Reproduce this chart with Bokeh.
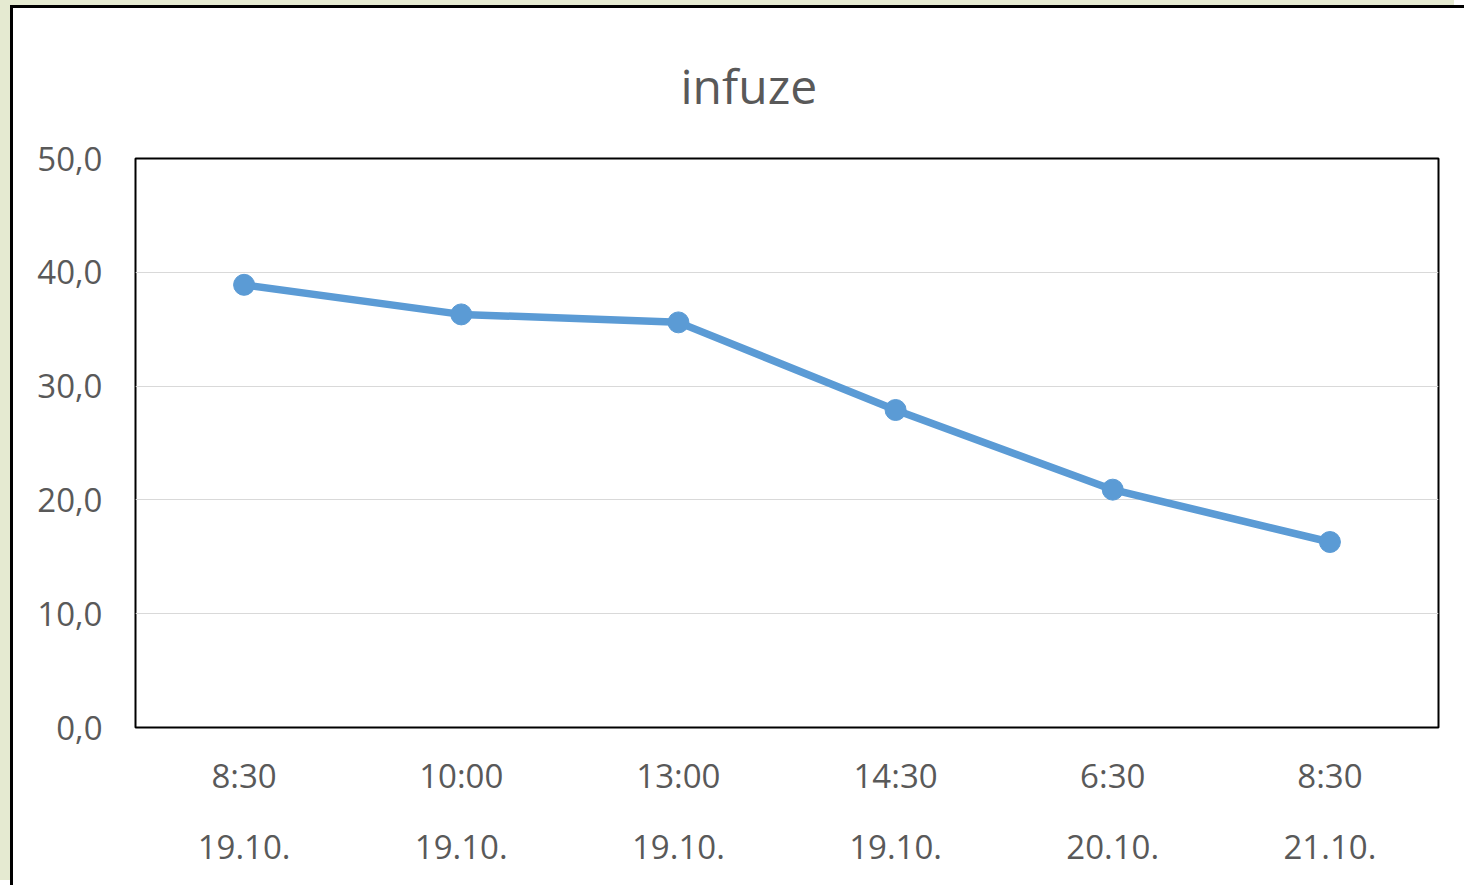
from bokeh.plotting import figure
from bokeh.embed import file_html
from bokeh.resources import INLINE
from bokeh.models import LinearAxis, FixedTicker, Range1d, ColumnDataSource

times = ["8:30", "10:00", "13:00", "14:30", "6:30", "8:30"]
dates = ["19.10.", "19.10.", "19.10.", "19.10.", "20.10.", "21.10."]
values = [38.9, 36.3, 35.6, 27.9, 20.9, 16.3]
y_ticks = [0, 10, 20, 30, 40, 50]
title_text = "infuze"

idx = list(range(len(values)))
src = ColumnDataSource(dict(x=idx, y=values))

FONT = "Open Sans"
GRAY = "#595959"

p = figure(frame_width=1303, frame_height=569,
           min_border_left=122, min_border_right=26,
           min_border_top=150, min_border_bottom=158,
           x_range=Range1d(-0.5, len(values) - 0.5), y_range=Range1d(0, 50),
           output_backend="svg", toolbar_location=None,
           x_axis_location=None, y_axis_location=None)
p.styles = {"margin-left": "10px", "margin-top": "5px",
            "border-left": "3px solid black", "border-top": "3px solid black",
            "box-shadow": "-10px -5px 0 0 #E5EAD1"}
p.background_fill_color = "white"
p.border_fill_color = "white"
p.outline_line_color = "black"
p.outline_line_width = 2

p.title.text = title_text
p.title.align = "left"
p.title.offset = 545
p.title.standoff = 82
p.title.text_font = FONT
p.title.text_font_size = "48px"
p.title.text_font_style = "normal"
p.title.text_color = GRAY

yax = LinearAxis(ticker=FixedTicker(ticks=y_ticks))
yax.major_label_overrides = {t: f"{t:.1f}".replace(".", ",") for t in y_ticks}
yax.axis_line_color = None
yax.major_tick_line_color = None
yax.minor_tick_line_color = None
yax.major_label_standoff = 27
yax.major_label_text_font = FONT
yax.major_label_text_font_size = "33px"
yax.major_label_text_color = GRAY
p.add_layout(yax, "left")

xax1 = LinearAxis(ticker=FixedTicker(ticks=idx))
xax1.major_label_overrides = {i: t for i, t in zip(idx, times)}
xax2 = LinearAxis(ticker=FixedTicker(ticks=idx))
xax2.major_label_overrides = {i: d for i, d in zip(idx, dates)}
for ax, so in ((xax1, 19), (xax2, 28)):
    ax.axis_line_color = None
    ax.major_tick_line_color = None
    ax.minor_tick_line_color = None
    ax.major_label_standoff = so
    ax.major_label_text_font = FONT
    ax.major_label_text_font_size = "33px"
    ax.major_label_text_color = GRAY
    p.add_layout(ax, "below")

p.xgrid.visible = False
p.ygrid.ticker = FixedTicker(ticks=y_ticks)
p.ygrid.grid_line_color = "#D9D9D9"
p.ygrid.grid_line_width = 1

p.line("x", "y", source=src, line_color="#5B9BD5", line_width=7.5)
p.scatter("x", "y", source=src, size=21, fill_color="#5B9BD5", line_color="#5B9BD5")

open("out.html", "w").write(file_html(p, INLINE))
